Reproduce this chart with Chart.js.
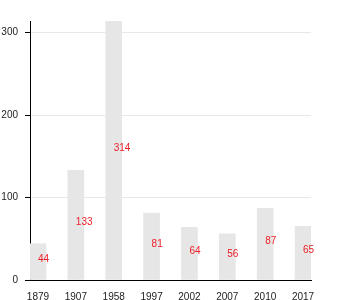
<!DOCTYPE html>
<html lang="en">
<head>
  <meta charset="UTF-8" />
  <title>Bar chart</title>
  <script src="https://cdn.jsdelivr.net/npm/chart.js@4/dist/chart.umd.min.js"></script>
  <style>
    body {
      margin: 0;
      background: #fff;
    }
  </style>
</head>
<body>
  <canvas id="barChart" width="350" height="300"></canvas>

  <script>
    const years = ['1879', '1907', '1958', '1997', '2002', '2007', '2010', '2017'];
    const counts = [44, 133, 314, 81, 64, 56, 87, 65];
    const yTicks = [0, 100, 200, 300];

    // red number drawn from the middle of each bar
    const valueLabels = {
      id: 'valueLabels',
      afterDatasetsDraw(chart) {
        const ctx = chart.ctx;
        const yScale = chart.scales.y;
        const meta = chart.getDatasetMeta(0);
        ctx.save();
        ctx.fillStyle = '#ee1c25';
        ctx.font = '10px "Liberation Sans", Arial, sans-serif';
        ctx.textAlign = 'left';
        ctx.textBaseline = 'alphabetic';
        meta.data.forEach(function(bar, i) {
          ctx.fillText(String(counts[i]), bar.x, yScale.getPixelForValue(counts[i] / 2));
        });
        ctx.restore();
      }
    };

    const ctx = document.getElementById('barChart').getContext('2d');
    new Chart(ctx, {
      type: 'bar',
      data: {
        datasets: [{
          data: counts.map(function(v, i) { return { x: i, y: v }; }),
          backgroundColor: '#e6e6e6',
          borderWidth: 0,
          barThickness: 16
        }]
      },
      options: {
        responsive: false,
        animation: false,
        layout: { padding: { top: 21, right: 39, bottom: 0, left: 0 } },
        plugins: {
          legend: { display: false },
          tooltip: { enabled: false }
        },
        scales: {
          x: {
            type: 'linear',
            offset: false,
            min: -0.21,
            max: 7.21,
            afterBuildTicks: function(scale) {
              scale.ticks = years.map(function(y, i) { return { value: i }; });
            },
            afterFit: function(scale) { scale.height = 20; },
            grid: { display: false, offset: false },
            border: { display: true, color: '#000', width: 1 },
            ticks: {
              padding: 3,
              color: '#222',
              font: { family: '"Liberation Sans", Arial, sans-serif', size: 10 },
              maxRotation: 0,
              autoSkip: false,
              callback: function(value) { return years[value]; }
            }
          },
          y: {
            min: 0,
            max: 314,
            afterBuildTicks: function(scale) {
              scale.ticks = yTicks.map(function(v) { return { value: v }; });
            },
            afterFit: function(scale) { scale.width = 30; },
            grid: { color: '#e8e8e8', tickColor: '#000', tickLength: 5 },
            border: { display: true, color: '#000', width: 1 },
            ticks: {
              padding: 7,
              color: '#222',
              font: { family: '"Liberation Sans", Arial, sans-serif', size: 10 }
            }
          }
        }
      },
      plugins: [valueLabels]
    });
  </script>
</body>
</html>
